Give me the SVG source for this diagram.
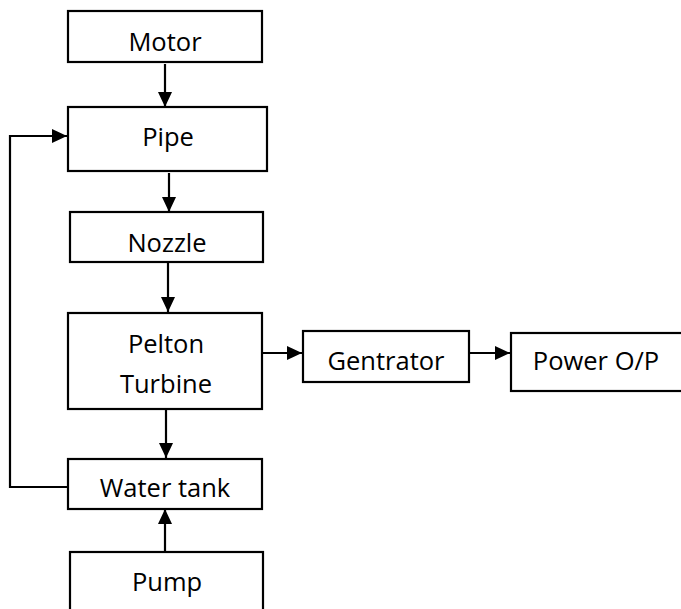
<svg xmlns="http://www.w3.org/2000/svg" width="681" height="609" viewBox="0 0 681 609">
<style>
.box{fill:#fff;stroke:#000;stroke-width:2.2}
.lbl{font-family:"Open Sans","Liberation Sans",sans-serif;font-size:25.5px;fill:#000;text-anchor:middle}
.con{fill:none;stroke:#000;stroke-width:2.2}
</style>
<defs>
<marker id="ah" markerUnits="userSpaceOnUse" markerWidth="16" markerHeight="14" refX="15" refY="7" orient="auto">
<path d="M0,0 L15,7 L0,14 Z" fill="#000"/>
</marker>
</defs>
<rect width="681" height="609" fill="#fff"/>
<g id="connectors">
<line class="con" x1="165" y1="64" x2="165" y2="107" marker-end="url(#ah)"/>
<line class="con" x1="169" y1="173" x2="169" y2="212" marker-end="url(#ah)"/>
<line class="con" x1="168" y1="263" x2="168" y2="312" marker-end="url(#ah)"/>
<line class="con" x1="166" y1="410" x2="166" y2="458" marker-end="url(#ah)"/>
<line class="con" x1="165" y1="552" x2="165" y2="509" marker-end="url(#ah)"/>
<line class="con" x1="262" y1="353" x2="302" y2="353" marker-end="url(#ah)"/>
<line class="con" x1="469" y1="353" x2="510" y2="353" marker-end="url(#ah)"/>
<path class="con" d="M68,487 L10,487 L10,136 L67,136" marker-end="url(#ah)"/>
</g>
<g id="motor"><rect class="box" x="68" y="11" width="194" height="51"/><text class="lbl" x="165" y="51">Motor</text></g>
<g id="pipe"><rect class="box" x="68" y="107" width="199" height="64"/><text class="lbl" x="168" y="146">Pipe</text></g>
<g id="nozzle"><rect class="box" x="70" y="212" width="193" height="50"/><text class="lbl" x="167" y="252">Nozzle</text></g>
<g id="pelton"><rect class="box" x="68" y="313" width="194" height="96"/><text class="lbl" x="166" y="353">Pelton</text><text class="lbl" x="166" y="393">Turbine</text></g>
<g id="generator"><rect class="box" x="303" y="331" width="166" height="51"/><text class="lbl" x="386" y="370">Gentrator</text></g>
<g id="power"><rect class="box" x="511" y="333" width="200" height="58"/><text class="lbl" x="596" y="370">Power O/P</text></g>
<g id="watertank"><rect class="box" x="68" y="459" width="194" height="50"/><text class="lbl" x="165" y="497">Water tank</text></g>
<g id="pump"><rect class="box" x="70" y="552" width="193" height="70"/><text class="lbl" x="167" y="591">Pump</text></g>
</svg>
